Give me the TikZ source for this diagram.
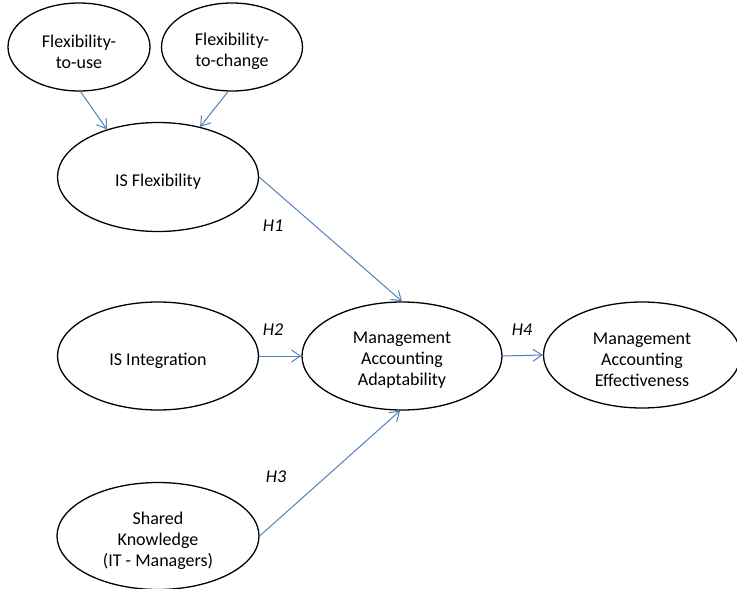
\documentclass[tikz,border=0pt]{standalone}
\usepackage{fontspec}
\setmainfont{Carlito}
\usetikzlibrary{shapes.geometric,arrows.meta}
\definecolor{arrowblue}{RGB}{79,129,189}
\begin{document}
\begin{tikzpicture}[x=1pt,y=-1pt,
  construct/.style={ellipse,draw=black,line width=1.3pt,inner sep=0pt},
  ctext/.style={align=center,font=\fontsize{18}{21}\selectfont,inner sep=0pt,yshift=-4.5pt},
  link/.style={draw=arrowblue,line width=1pt,-{Straight Barb[length=9pt,width=12pt,line width=1pt]}},
  hyp/.style={font=\fontsize{18}{21}\selectfont\itshape}]
\useasboundingbox (0,0) rectangle (737,589);
\node[construct,minimum width=142pt,minimum height=88pt,label={[ctext]center:Flexibility-\\to-use}] (fu) at (79,47) {};
\node[construct,minimum width=141pt,minimum height=88pt,label={[ctext]center:Flexibility-\\to-change}] (fc) at (232,47) {};
\node[construct,minimum width=201pt,minimum height=109pt,label={[ctext]center:IS Flexibility}] (isf) at (158,177) {};
\node[construct,minimum width=201pt,minimum height=108pt,label={[ctext]center:IS Integration}] (isi) at (158,356) {};
\node[construct,minimum width=200pt,minimum height=108pt,label={[ctext]center:Management\\Accounting\\Adaptability}] (maa) at (402,356) {};
\node[construct,minimum width=197pt,minimum height=106pt,label={[ctext]center:Management\\Accounting\\Effectiveness}] (mae) at (642,355) {};
\node[construct,minimum width=202pt,minimum height=107pt,label={[ctext]center:Shared\\Knowledge\\(IT - Managers)}] (sk) at (158,536) {};
\draw[link] (fu.-88) -- (isf.137);
\draw[link] (fc.-95) -- (isf.50);
\draw[link] (isf.east) -- (maa.north);
\draw[link] (isi.east) -- (maa.west);
\draw[link] (maa.east) -- (mae.west);
\draw[link] (sk.east) -- (maa.-92);
\node[hyp] (h1) at (273,226) {H1};
\node[hyp] (h2) at (273,330) {H2};
\node[hyp] (h3) at (276,477) {H3};
\node[hyp] (h4) at (522,330) {H4};
\end{tikzpicture}
\end{document}
